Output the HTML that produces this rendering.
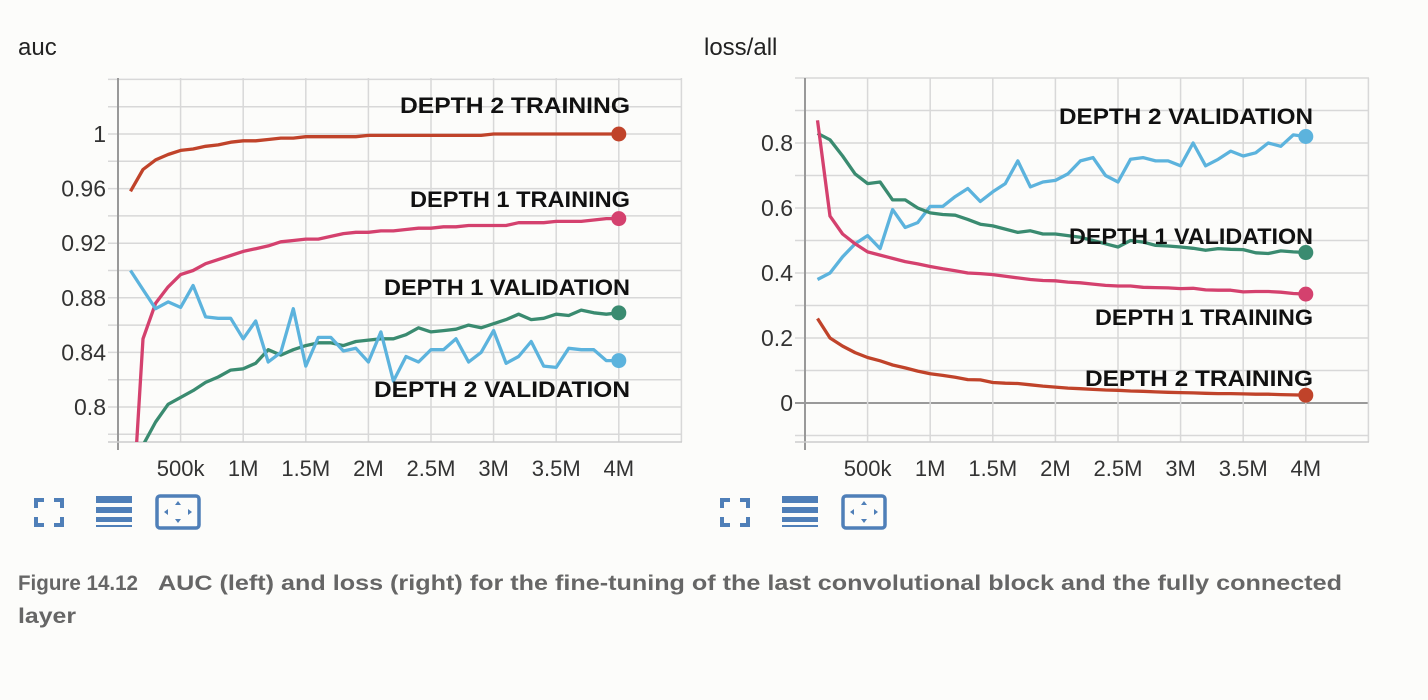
<!DOCTYPE html>
<html><head><meta charset="utf-8"><style>
html,body{margin:0;padding:0;background:#fcfcfa;}
svg{display:block;font-family:"Liberation Sans",sans-serif;}
</style></head><body>
<svg id="root" width="1428" height="700" viewBox="0 0 1428 700">
<rect width="1428" height="700" fill="#fcfcfa"/>
<text x="18" y="55" font-size="24" fill="#222">auc</text>
<text x="704" y="55" font-size="24" fill="#222">loss/all</text>
<g id="left"></g>
<g id="right"></g>
<g id="icons"></g>
<text x="18" y="590" font-size="21" font-weight="bold" fill="#666" textLength="120" lengthAdjust="spacingAndGlyphs">Figure 14.12</text>
<text x="158" y="590" font-size="21" font-weight="bold" fill="#666" textLength="1184" lengthAdjust="spacingAndGlyphs">AUC (left) and loss (right) for the fine-tuning of the last convolutional block and the fully connected</text>
<text x="18" y="623" font-size="21" font-weight="bold" fill="#666" textLength="58" lengthAdjust="spacingAndGlyphs">layer</text>
</svg>
<script>
const steps = [0.1,0.2,0.3,0.4,0.5,0.6,0.7,0.8,0.9,1.0,1.1,1.2,1.3,1.4,1.5,1.6,1.7,1.8,1.9,2.0,2.1,2.2,2.3,2.4,2.5,2.6,2.7,2.8,2.9,3.0,3.1,3.2,3.3,3.4,3.5,3.6,3.7,3.8,3.9,4.0];
const xTickValues = [0.5,1,1.5,2,2.5,3,3.5,4];
const xTickLabels = ["500k","1M","1.5M","2M","2.5M","3M","3.5M","4M"];

const aucD2Train = [0.958,0.974,0.981,0.985,0.988,0.989,0.991,0.992,0.994,0.995,0.995,0.996,0.997,0.997,0.998,0.998,0.998,0.998,0.998,0.999,0.999,0.999,0.999,0.999,0.999,0.999,0.999,0.999,0.999,1.0,1.0,1.0,1.0,1.0,1.0,1.0,1.0,1.0,1.0,1.0];
const aucD1Train = [0.70,0.850,0.876,0.888,0.897,0.900,0.905,0.908,0.911,0.914,0.916,0.918,0.921,0.922,0.923,0.923,0.925,0.927,0.928,0.928,0.929,0.929,0.930,0.931,0.931,0.932,0.932,0.933,0.933,0.933,0.933,0.935,0.935,0.935,0.936,0.936,0.936,0.937,0.938,0.938];
const aucD1Val = [0.74,0.772,0.789,0.802,0.807,0.812,0.818,0.822,0.827,0.828,0.832,0.842,0.838,0.842,0.845,0.847,0.847,0.845,0.848,0.849,0.850,0.850,0.853,0.858,0.855,0.856,0.857,0.860,0.858,0.861,0.864,0.868,0.864,0.865,0.868,0.867,0.871,0.869,0.868,0.869];
const aucD2Val = [0.900,0.886,0.872,0.877,0.873,0.889,0.866,0.865,0.865,0.850,0.863,0.833,0.840,0.872,0.830,0.851,0.851,0.841,0.843,0.833,0.855,0.819,0.837,0.833,0.842,0.842,0.850,0.833,0.840,0.856,0.832,0.837,0.848,0.830,0.829,0.843,0.842,0.842,0.834,0.834];
const aucYTicks = [0.8,0.84,0.88,0.92,0.96,1];
const aucYLabels = ["0.8","0.84","0.88","0.92","0.96","1"];

const lossD2Val = [0.38,0.40,0.45,0.49,0.515,0.475,0.595,0.54,0.555,0.605,0.605,0.635,0.66,0.62,0.65,0.675,0.745,0.665,0.68,0.685,0.705,0.745,0.755,0.70,0.68,0.75,0.755,0.745,0.745,0.73,0.80,0.73,0.75,0.775,0.76,0.77,0.80,0.79,0.825,0.82];
const lossD1Val = [0.83,0.81,0.76,0.705,0.675,0.68,0.625,0.625,0.60,0.585,0.58,0.578,0.565,0.55,0.545,0.535,0.525,0.53,0.52,0.52,0.515,0.51,0.50,0.49,0.48,0.50,0.495,0.485,0.483,0.48,0.476,0.47,0.475,0.473,0.472,0.462,0.46,0.468,0.465,0.463];
const lossD1Train = [0.87,0.575,0.52,0.49,0.465,0.455,0.445,0.435,0.428,0.42,0.413,0.407,0.40,0.398,0.395,0.39,0.385,0.38,0.377,0.376,0.372,0.37,0.366,0.362,0.36,0.36,0.356,0.355,0.354,0.352,0.353,0.348,0.347,0.347,0.342,0.343,0.343,0.341,0.337,0.335];
const lossD2Train = [0.26,0.20,0.175,0.155,0.14,0.13,0.117,0.108,0.098,0.09,0.085,0.079,0.072,0.071,0.063,0.061,0.06,0.056,0.052,0.049,0.046,0.044,0.042,0.040,0.039,0.037,0.036,0.034,0.033,0.032,0.031,0.030,0.029,0.029,0.028,0.027,0.027,0.026,0.025,0.024];
const lossYTicks = [0,0.2,0.4,0.6,0.8];
const lossYLabels = ["0","0.2","0.4","0.6","0.8"];

const NS = "http://www.w3.org/2000/svg";
function mk(parent, tag, attrs){const e=document.createElementNS(NS,tag);for(const k in attrs)e.setAttribute(k,attrs[k]);parent.appendChild(e);return e;}

function chart(g, cfg){
  const x0=cfg.left, pxPerM=125.2, top=78, bottom=442, right=cfg.left+564;
  const xs=v=>x0+v*pxPerM;
  const ys=v=>cfg.yRef-(v-cfg.vRef)*cfg.pxPerUnit;
  const id='clip'+cfg.key;
  const cp=mk(g,'clipPath',{id:id}); mk(cp,'rect',{x:x0,y:top,width:right-x0,height:bottom-top});
  for(let v=cfg.gMin; v<=cfg.gMax+1e-9; v+=cfg.gStep){
    const y=ys(v); if(y<top-1||y>bottom+1) continue;
    const isZero=Math.abs(v)<1e-9&&cfg.zero;
    const l=mk(g,'line',{x1:x0-10,x2:right,y1:y,y2:y,stroke:isZero?'#999':'#d8d8d8','stroke-width':isZero?2:1.5});
    
    
  }
  for(let v=0.5; v<=4.5; v+=0.5){
    const l=mk(g,'line',{x1:xs(v),x2:xs(v),y1:top,y2:bottom,stroke:'#d8d8d8','stroke-width':1.5});
    
    
  }
  mk(g,'line',{x1:x0,x2:x0,y1:top,y2:bottom+8,stroke:'#999','stroke-width':2});
  mk(g,'line',{x1:x0-10,x2:right,y1:bottom,y2:bottom,stroke:'#ccc','stroke-width':1.5});
  cfg.yTicks.forEach((v,i)=>{
    const t=mk(g,'text',{x:x0-12,y:ys(v)+8,'text-anchor':'end','font-size':23,fill:'#333'});
    t.textContent=cfg.yLabels[i];
    
    
  });
  xTickValues.forEach((v,i)=>{
    const t=mk(g,'text',{x:xs(v),y:476,'text-anchor':'middle','font-size':22,fill:'#333'});
    t.textContent=xTickLabels[i];
    
    
  });
  const sg=mk(g,'g',{'clip-path':'url(#'+id+')'});
  cfg.series.forEach(s=>{
    const d=s.data.map((v,i)=>(i?'L':'M')+xs(steps[i]).toFixed(1)+','+ys(v).toFixed(1)).join(' ');
    const p=mk(sg,'path',{d:d,fill:'none',stroke:s.color,'stroke-width':3.3,'stroke-linejoin':'round'});
    
    
    const c=mk(g,'circle',{cx:xs(steps[steps.length-1]),cy:ys(s.data[s.data.length-1]),r:7.5,fill:s.color});
    
    
  });
  cfg.labels.forEach(lb=>{
    const t=mk(g,'text',{x:lb.x,y:lb.y,'text-anchor':'end','font-size':22,'font-weight':'bold',fill:'#111',textLength:lb.w,lengthAdjust:'spacingAndGlyphs'});
    t.textContent=lb.t;
    
    
  });
}

chart(document.getElementById('left'),{key:'L',left:118,yRef:134,vRef:1,pxPerUnit:1365,gMin:0.76,gMax:1.06,gStep:0.02,zero:false,
  yTicks:aucYTicks,yLabels:aucYLabels,
  series:[{data:aucD2Train,color:'#c0432a',name:'depth2-training'},{data:aucD1Train,color:'#d4416e',name:'depth1-training'},{data:aucD1Val,color:'#3a8b70',name:'depth1-validation'},{data:aucD2Val,color:'#5cb3dd',name:'depth2-validation'}],
  labels:[{t:'DEPTH 2 TRAINING',x:630,y:113,w:230},{t:'DEPTH 1 TRAINING',x:630,y:207,w:220},{t:'DEPTH 1 VALIDATION',x:630,y:295,w:246},{t:'DEPTH 2 VALIDATION',x:630,y:397,w:256}]});
chart(document.getElementById('right'),{key:'R',left:805,yRef:403,vRef:0,pxPerUnit:325,gMin:-0.1,gMax:1.0,gStep:0.1,zero:true,
  yTicks:lossYTicks,yLabels:lossYLabels,
  series:[{data:lossD2Val,color:'#5cb3dd',name:'depth2-validation'},{data:lossD1Val,color:'#3a8b70',name:'depth1-validation'},{data:lossD1Train,color:'#d4416e',name:'depth1-training'},{data:lossD2Train,color:'#c0432a',name:'depth2-training'}],
  labels:[{t:'DEPTH 2 VALIDATION',x:1313,y:124,w:254},{t:'DEPTH 1 VALIDATION',x:1313,y:244,w:244},{t:'DEPTH 1 TRAINING',x:1313,y:325,w:218},{t:'DEPTH 2 TRAINING',x:1313,y:386,w:228}]});

const icons=document.getElementById('icons');
[0,686].forEach(off=>{
  const C='#4f7fb8';
  const g1=mk(icons,'g',{});
  
  
  const a=36+off,b=500;
  mk(g1,'path',{d:`M${a},${b+8}V${b}H${a+8} M${a+18},${b}H${a+26}V${b+8} M${a},${b+17}V${b+25}H${a+8} M${a+26},${b+17}V${b+25}H${a+18}`,fill:'none',stroke:C,'stroke-width':4});
  const g2=mk(icons,'g',{});
  
  
  const c=96+off;
  mk(g2,'rect',{x:c,y:496,width:36,height:7,fill:C});
  mk(g2,'rect',{x:c,y:507,width:36,height:6,fill:C});
  mk(g2,'rect',{x:c,y:517,width:36,height:5,fill:C});
  mk(g2,'rect',{x:c,y:525,width:36,height:2,fill:C});
  const g3=mk(icons,'g',{});
  
  
  const d=157+off;
  mk(g3,'rect',{x:d,y:496,width:42,height:32,rx:3,fill:'none',stroke:C,'stroke-width':3.5});
  mk(g3,'path',{d:`M${d+21},501l-3,4h6z M${d+21},523l-3,-4h6z M${d+7},512l4,-3v6z M${d+35},512l-4,-3v6z`,fill:C});
});
</script>
</body></html>
